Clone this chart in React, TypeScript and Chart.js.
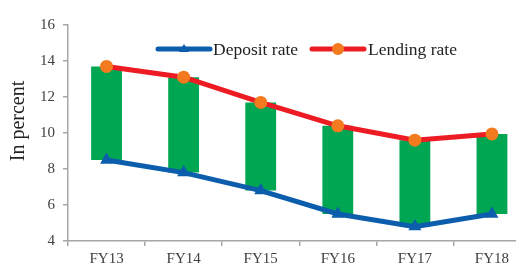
import React, { useEffect, useRef } from "react";
import { Chart, registerables } from "chart.js";

Chart.register(...registerables);

const categories = ["FY13", "FY14", "FY15", "FY16", "FY17", "FY18"];
const depositRate = [8.5, 7.8, 6.8, 5.5, 4.8, 5.5];
const lendingRate = [13.7, 13.1, 11.7, 10.4, 9.6, 9.95];
const yTicks = [4, 6, 8, 10, 12, 14, 16];
const yTitle = "In percent";

const GREEN = "#00A651";
const BLUE = "#0C5DAC";
const RED = "#ED1C24";
const ORANGE = "#F47A20";
const AXIS = "#A6A6A6";
const TEXT = "#404040";
const FONT = "'Liberation Serif', 'Times New Roman', serif";

const legendPlugin = {
  id: "customLegend",
  afterDatasetsDraw(chart: any) {
    const ctx = chart.ctx;
    const y = 41;
    ctx.save();
    ctx.lineCap = "round";
    // deposit
    ctx.strokeStyle = BLUE;
    ctx.lineWidth = 5;
    ctx.beginPath();
    ctx.moveTo(150, y);
    ctx.lineTo(202, y);
    ctx.stroke();
    ctx.fillStyle = BLUE;
    ctx.beginPath();
    ctx.moveTo(176, y - 5);
    ctx.lineTo(181, y + 3);
    ctx.lineTo(171, y + 3);
    ctx.closePath();
    ctx.fill();
    // lending
    ctx.strokeStyle = RED;
    ctx.beginPath();
    ctx.moveTo(304, y);
    ctx.lineTo(356, y);
    ctx.stroke();
    ctx.fillStyle = ORANGE;
    ctx.beginPath();
    ctx.arc(330, y, 6, 0, Math.PI * 2);
    ctx.fill();
    ctx.fillStyle = "#222";
    ctx.font = `17.5px ${FONT}`;
    ctx.textBaseline = "middle";
    ctx.textAlign = "left";
    ctx.fillText("Deposit rate", 205, y + 1);
    ctx.fillText("Lending rate", 360, y + 1);
    // y title
    ctx.translate(11, 113);
    ctx.rotate(-Math.PI / 2);
    ctx.font = `20px ${FONT}`;
    ctx.textAlign = "center";
    ctx.fillText(yTitle, 0, 0);
    ctx.restore();
  },
};

export default function App() {
  const ref = useRef<HTMLCanvasElement>(null);
  useEffect(() => {
    if (!ref.current) return;
    const chart = new Chart(ref.current, {
      type: "bar",
      data: {
        labels: categories,
        datasets: [
          {
            type: "line",
            label: "Deposit rate",
            data: depositRate,
            borderColor: BLUE,
            backgroundColor: BLUE,
            borderWidth: 5,
            pointStyle: "triangle",
            pointRadius: 7.5,
            pointBackgroundColor: BLUE,
            pointBorderColor: BLUE,
            pointBorderWidth: 0,
            order: 1,
          } as any,
          {
            type: "line",
            label: "Lending rate",
            data: lendingRate,
            borderColor: RED,
            backgroundColor: ORANGE,
            borderWidth: 5,
            pointStyle: "circle",
            pointRadius: 6.5,
            pointBackgroundColor: ORANGE,
            pointBorderColor: ORANGE,
            pointBorderWidth: 0,
            order: 2,
          } as any,
          {
            type: "bar",
            label: "Spread",
            data: depositRate.map((d, i) => [d, lendingRate[i]]) as any,
            backgroundColor: GREEN,
            borderWidth: 0,
            barPercentage: 0.8,
            categoryPercentage: 0.5,
            order: 3,
          },
        ],
      },
      options: {
        responsive: false,
        animation: false,
        layout: { padding: { top: 13, right: 4, left: 0, bottom: 0 } },
        plugins: {
          legend: { display: false },
          tooltip: { enabled: false },
        },
        scales: {
          x: {
            offset: true,
            afterFit: (s: any) => {
              s.height = 22;
            },
            grid: {
              offset: true,
              drawOnChartArea: false,
              drawTicks: true,
              tickLength: 5,
              color: AXIS,
              lineWidth: 1.5,
            },
            border: { color: AXIS, width: 1.5 },
            ticks: {
              color: TEXT,
              padding: 4,
              font: { family: FONT, size: 15 },
              maxRotation: 0,
            },
          },
          y: {
            min: 4,
            max: 16,
            afterFit: (s: any) => {
              s.width = 60;
            },
            afterBuildTicks: (s: any) => {
              s.ticks = yTicks.map((v) => ({ value: v }));
            },
            grid: {
              drawOnChartArea: false,
              drawTicks: true,
              tickLength: 5,
              color: AXIS,
              lineWidth: 1.5,
            },
            border: { color: AXIS, width: 1.5 },
            ticks: {
              color: TEXT,
              padding: 8,
              font: { family: FONT, size: 15 },
            },
          },
        },
      },
      plugins: [legendPlugin],
    });
    return () => chart.destroy();
  }, []);
  return (
    <div style={{ width: 516, height: 255, overflow: "hidden" }}>
      <canvas ref={ref} width={530} height={255} style={{ display: "block" }} />
    </div>
  );
}
